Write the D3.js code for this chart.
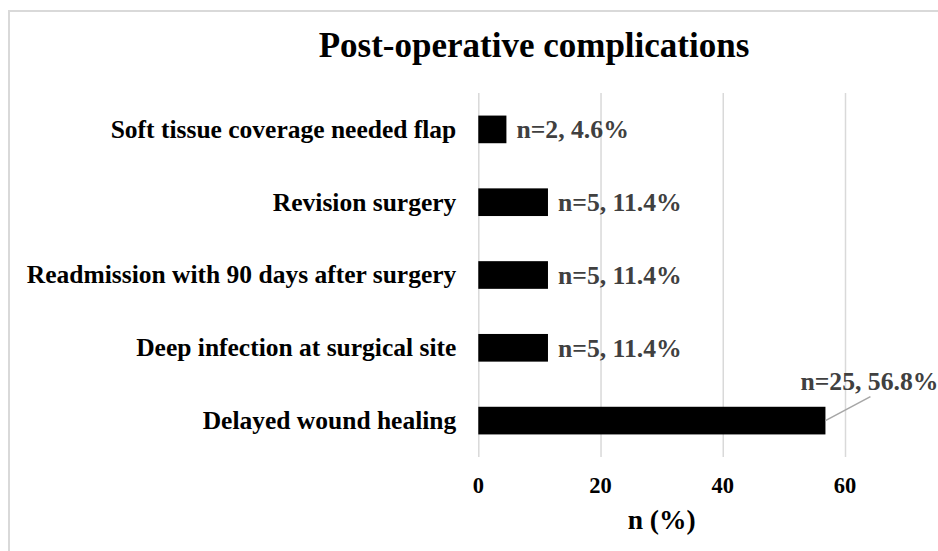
<!DOCTYPE html>
<html>
<head>
<meta charset="utf-8">
<script src="https://cdn.jsdelivr.net/npm/d3@7"></script>
<style>
  body { margin: 0; background: #fff; }
  text { font-family: "Liberation Serif", "Times New Roman", serif; font-weight: bold; }
  .grid line { stroke: #d9d9d9; stroke-width: 1.5; }
  .grid .domain { display: none; }
</style>
</head>
<body>
<svg id="chart"></svg>
<script>
// chart data
var categories = [
  "Soft tissue coverage needed flap",
  "Revision surgery",
  "Readmission with 90 days after surgery",
  "Deep infection at surgical site",
  "Delayed wound healing"
];
var percents = [4.6, 11.4, 11.4, 11.4, 56.8];
var counts = [2, 5, 5, 5, 25];
var xTicks = [0, 20, 40, 60];

var w = 938;
var h = 551;
var plot = { left: 478.3, right: 845, top: 93, bottom: 457 };

var svg = d3.select("#chart")
  .attr("width", w)
  .attr("height", h);

// chart border (only top and left visible in the picture)
svg.append("rect")
  .attr("x", 9)
  .attr("y", 11)
  .attr("width", w + 20)
  .attr("height", h + 20)
  .attr("fill", "none")
  .attr("stroke", "#d9d9d9")
  .attr("stroke-width", 2);

var xScale = d3.scaleLinear()
  .domain([0, 60])
  .range([plot.left, plot.right]);

var yScale = d3.scaleBand()
  .domain(categories)
  .range([plot.top, plot.bottom])
  .paddingInner(0.62)
  .paddingOuter(0.31);

// vertical gridlines
svg.append("g")
  .attr("class", "grid")
  .attr("transform", "translate(0," + plot.bottom + ")")
  .call(d3.axisBottom(xScale)
    .tickValues(xTicks)
    .tickSize(-(plot.bottom - plot.top))
    .tickFormat(""));

// tick labels
svg.selectAll(".xlabel")
  .data(xTicks)
  .enter()
  .append("text")
  .attr("class", "xlabel")
  .attr("x", function(d) { return xScale(d); })
  .attr("y", 493)
  .attr("text-anchor", "middle")
  .attr("font-size", "22.5px")
  .attr("fill", "#000")
  .text(function(d) { return d; });

// bars
var rows = categories.map(function(c, i) {
  return { name: c, pct: percents[i], n: counts[i] };
});

svg.selectAll(".bar")
  .data(rows)
  .enter()
  .append("rect")
  .attr("class", "bar")
  .attr("x", xScale(0))
  .attr("y", function(d) { return yScale(d.name); })
  .attr("width", function(d) { return xScale(d.pct) - xScale(0); })
  .attr("height", yScale.bandwidth())
  .attr("fill", "#000");

// category labels
svg.selectAll(".cat")
  .data(rows)
  .enter()
  .append("text")
  .attr("class", "cat")
  .attr("x", plot.left - 22)
  .attr("y", function(d) { return yScale(d.name) + yScale.bandwidth() / 2; })
  .attr("dy", "0.33em")
  .attr("text-anchor", "end")
  .attr("font-size", "25.5px")
  .attr("fill", "#000")
  .text(function(d) { return d.name; });

// data labels, the last one sits above with a leader line
var last = rows[rows.length - 1];
svg.selectAll(".val")
  .data(rows.slice(0, rows.length - 1))
  .enter()
  .append("text")
  .attr("class", "val")
  .attr("x", function(d) { return xScale(d.pct) + 10; })
  .attr("y", function(d) { return yScale(d.name) + yScale.bandwidth() / 2; })
  .attr("dy", "0.35em")
  .attr("font-size", "25.7px")
  .attr("fill", "#404040")
  .text(function(d) { return "n=" + d.n + ", " + d.pct + "%"; });

var lastX = xScale(last.pct);
var lastY = yScale(last.name) + yScale.bandwidth() / 2;
svg.append("line")
  .attr("x1", lastX)
  .attr("y1", lastY)
  .attr("x2", lastX + 45)
  .attr("y2", lastY - 24)
  .attr("stroke", "#a6a6a6")
  .attr("stroke-width", 1.5);
svg.append("text")
  .attr("x", lastX + 44)
  .attr("y", lastY - 31)
  .attr("text-anchor", "middle")
  .attr("font-size", "25.7px")
  .attr("fill", "#404040")
  .text("n=" + last.n + ", " + last.pct + "%");

// title
svg.append("text")
  .attr("x", 534)
  .attr("y", 57)
  .attr("text-anchor", "middle")
  .attr("font-size", "35px")
  .attr("fill", "#000")
  .text("Post-operative complications");

// axis title
svg.append("text")
  .attr("x", (plot.left + plot.right) / 2)
  .attr("y", 529)
  .attr("text-anchor", "middle")
  .attr("font-size", "27.5px")
  .attr("fill", "#000")
  .text("n (%)");
</script>
</body>
</html>
